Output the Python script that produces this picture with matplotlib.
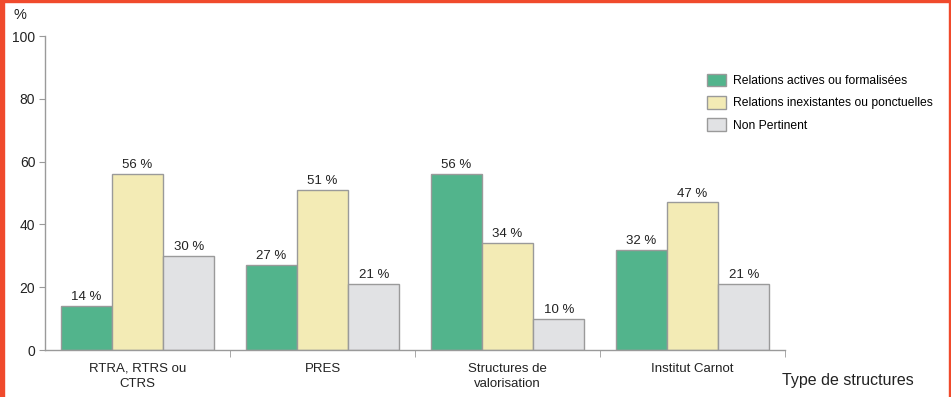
import matplotlib
matplotlib.use("Agg")
import matplotlib.pyplot as plt
from matplotlib.patches import Rectangle
import numpy as np

plt.rcParams['font.family'] = ['Liberation Sans', 'DejaVu Sans']

categories = ["RTRA, RTRS ou\nCTRS", "PRES", "Structures de\nvalorisation", "Institut Carnot"]
series_names = ["Relations actives ou formalisées",
                "Relations inexistantes ou ponctuelles",
                "Non Pertinent"]
actives = [14, 27, 56, 32]
inexistantes = [56, 51, 34, 47]
non_pertinent = [30, 21, 10, 21]
yticks = [0, 20, 40, 60, 80, 100]

colors = ["#52b48c", "#f3ebb5", "#e1e2e4"]
edge = "#9a9a9a"

W, H = 951, 397
fig = plt.figure(figsize=(W / 100, H / 100), dpi=100)

# axes box in pixel terms: x 45..785, y 36..350
ax = fig.add_axes([45 / W, 1 - 350 / H, (785 - 45) / W, (350 - 36) / H])

x = np.arange(len(categories))
width = 0.277
for i, (vals, name) in enumerate(zip([actives, inexistantes, non_pertinent], series_names)):
    pos = x + (i - 1) * width
    ax.bar(pos, vals, width, color=colors[i], edgecolor=edge, linewidth=1, label=name, zorder=2)
    for px, v in zip(pos, vals):
        ax.text(px, v + 0.9, f"{v} %", ha="center", va="bottom", fontsize=9.5, color="#222222")

ax.set_xlim(-0.5, 3.5)
ax.set_ylim(0, 100)
ax.set_yticks(yticks)
ax.set_xticks(x)
ax.set_xticklabels(categories, fontsize=9.5, color="#222222")
for lbl in ax.get_xticklabels():
    lbl.set_linespacing(1.4)
ax.set_xticks([0.5, 1.5, 2.5, 3.5], minor=True)
ax.tick_params(axis="x", which="major", length=0, pad=9)
ax.tick_params(axis="x", which="minor", length=5, color=edge, direction="out")
ax.tick_params(axis="y", length=4, color=edge, labelsize=10, pad=3, labelcolor="#222222")

for s in ["top", "right"]:
    ax.spines[s].set_visible(False)
for s in ["left", "bottom"]:
    ax.spines[s].set_color(edge)
    ax.spines[s].set_linewidth(1)

leg = ax.legend(loc="upper left", bbox_to_anchor=((702 - 45) / (785 - 45), 0.895),
                frameon=False, fontsize=8.7, handlelength=1.55, handleheight=1.2,
                labelspacing=0.75, handletextpad=0.6, borderaxespad=0)

fig.text(14 / W, 1 - 15 / H, "%", fontsize=10.5, ha="left", va="center", color="#222222")
fig.text(782 / W, 1 - 380 / H, "Type de structures", fontsize=11.5, ha="left", va="center", color="#222222")

# red frame on left, top, right
red = "#f04a2c"
fig.patches.append(Rectangle((0, 0), 4 / W, 1, transform=fig.transFigure, color=red, zorder=10))
fig.patches.append(Rectangle((0, 1 - 2 / H), 1, 2 / H, transform=fig.transFigure, color=red, zorder=10))
fig.patches.append(Rectangle((1 - 2 / W, 0), 2 / W, 1, transform=fig.transFigure, color=red, zorder=10))

fig.savefig("out.png", dpi=100)
